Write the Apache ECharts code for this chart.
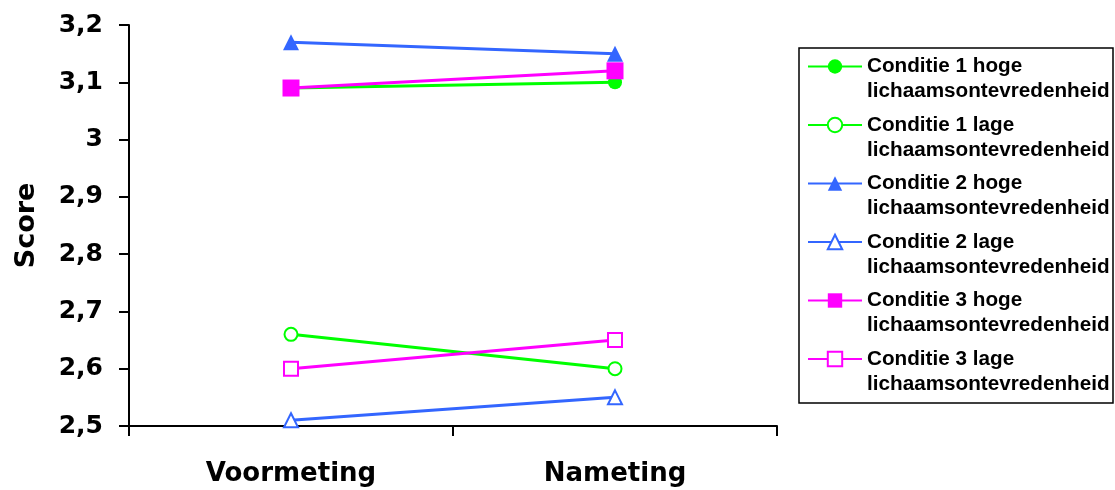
<!DOCTYPE html>
<html>
<head>
<meta charset="utf-8">
<script src="https://cdn.jsdelivr.net/npm/echarts@6/dist/echarts.min.js"></script>
<style>html,body{margin:0;padding:0;background:#fff}#c{width:1115px;height:490px}</style>
</head>
<body>
<div id="c"></div>
<script>
var categories = ['Voormeting', 'Nameting'];
var c1Hoge = [3.09, 3.10];
var c1Lage = [2.66, 2.60];
var c2Hoge = [3.17, 3.15];
var c2Lage = [2.51, 2.55];
var c3Hoge = [3.09, 3.12];
var c3Lage = [2.60, 2.65];
var seriesNames = [
  'Conditie 1 hoge\nlichaamsontevredenheid',
  'Conditie 1 lage\nlichaamsontevredenheid',
  'Conditie 2 hoge\nlichaamsontevredenheid',
  'Conditie 2 lage\nlichaamsontevredenheid',
  'Conditie 3 hoge\nlichaamsontevredenheid',
  'Conditie 3 lage\nlichaamsontevredenheid'
];
var yMin = 2.5, yMax = 3.2, yStep = 0.1;

var GREEN = '#00ff00', BLUE = '#3366ff', MAGENTA = '#ff00ff';

function mk(name, data, color, symbol, size, empty) {
  return {
    name: name, type: 'line', data: data,
    symbol: symbol, symbolSize: size,
    lineStyle: { color: color, width: 3 },
    itemStyle: empty ? { color: color, borderColor: color, borderWidth: 2.5 } : { color: color, borderColor: color, borderWidth: 0 },
    emphasis: { disabled: true },
    animation: false
  };
}

var chart = echarts.init(document.getElementById('c'));
chart.setOption({
  animation: false,
  grid: { left: 129, right: 338, top: 25, bottom: 64, containLabel: false },
  xAxis: {
    type: 'category', data: categories, boundaryGap: true,
    axisLine: { show: true, lineStyle: { color: '#000', width: 2 } },
    axisTick: { show: true, length: 10, lineStyle: { color: '#000', width: 2 } },
    axisLabel: { margin: 35, color: '#000', fontFamily: 'DejaVu Sans', fontWeight: 'bold', fontSize: 26 },
    splitLine: { show: false }
  },
  yAxis: {
    type: 'value', min: yMin, max: yMax, interval: yStep,
    name: 'Score', nameLocation: 'middle', nameGap: 89, nameRotate: 90,
    nameTextStyle: { color: '#000', fontFamily: 'DejaVu Sans', fontWeight: 'bold', fontSize: 27 },
    axisLine: { show: true, lineStyle: { color: '#000', width: 2 } },
    axisTick: { show: true, length: 10, lineStyle: { color: '#000', width: 2 } },
    axisLabel: {
      margin: 26, color: '#000', fontFamily: 'DejaVu Sans', fontWeight: 'bold', fontSize: 25,
      formatter: function (v) { return String(Math.round(v * 10) / 10).replace('.', ','); }
    },
    splitLine: { show: false }
  },
  legend: {
    orient: 'vertical', left: 807, top: 29, padding: 0,
    itemWidth: 54, itemHeight: 18, itemGap: -16.5,
    selectedMode: false,
    formatter: function (n) { return ' \n' + n; },
    textStyle: { color: '#000', fontFamily: 'Liberation Sans', fontWeight: 'bold', fontSize: 20.7, lineHeight: 25 },
    data: seriesNames
  },
  graphic: [{
    type: 'rect', silent: true,
    shape: { x: 799, y: 48, width: 314, height: 355 },
    style: { fill: 'none', stroke: '#000', lineWidth: 1.5 }
  }],
  series: [
    mk(seriesNames[0], c1Hoge, GREEN, 'circle', 14, false),
    mk(seriesNames[1], c1Lage, GREEN, 'emptyCircle', 13, true),
    mk(seriesNames[2], c2Hoge, BLUE, 'triangle', 16, false),
    mk(seriesNames[3], c2Lage, BLUE, 'emptyTriangle', 14, true),
    mk(seriesNames[4], c3Hoge, MAGENTA, 'rect', 17, false),
    mk(seriesNames[5], c3Lage, MAGENTA, 'emptyRect', 14, true)
  ]
});
</script>
</body>
</html>
